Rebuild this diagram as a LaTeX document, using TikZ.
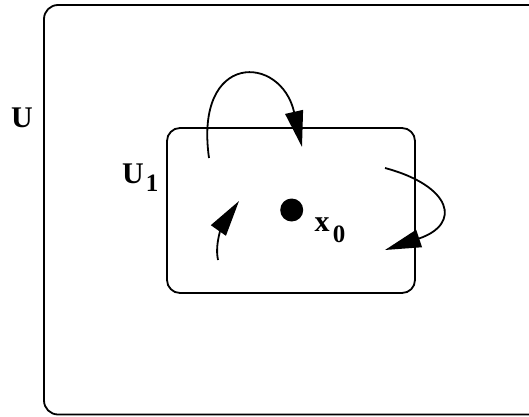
\documentclass[tikz,border=0pt]{standalone}
\usepackage{fontspec}
\setmainfont{Liberation Serif}
\usetikzlibrary{arrows.meta}
\begin{document}
\begin{tikzpicture}[x=1pt,y=1pt,
  box/.style={line width=1.8pt, rounded corners=14pt},
  flow/.style={line width=1.8pt, -{Triangle[length=36pt,width=18pt]}},
  lbl/.style={font=\fontsize{30}{32}\selectfont\bfseries, inner sep=0pt, anchor=base},
  sublbl/.style={font=\fontsize{25}{27}\selectfont\bfseries, inner sep=0pt, anchor=base}]
\useasboundingbox (0,0) rectangle (529,416);
\clip (0,0) rectangle (529,416);
\draw[box] (44,1.5) rectangle (570,411);
\draw[box, rounded corners=13pt] (167,123) rectangle (415,288);
\node[lbl] (U) at (22,289) {U};
\node[lbl] (U1) at (133,233) {U};
\node[sublbl] (one) at (152,225) {1};
\node[lbl] (x) at (322,185) {x};
\node[sublbl] (zero) at (339,174) {0};
\fill (291.7,206) circle (11.5);
\node[inner sep=0pt] (dot) at (291.7,206) {};
\coordinate (a1s) at (209,258);
\coordinate (a1e) at (302,269);
\coordinate (a2s) at (385,248);
\coordinate (a2e) at (385,166);
\coordinate (a3s) at (218,156);
\coordinate (a3e) at (239,215);
\draw[flow] (a1s) .. controls (194,365) and (281,362) .. (a1e);
\draw[flow] (a2s) .. controls (452,230) and (462,192) .. (a2e);
\draw[flow] (a3s) .. controls (214,175) and (225,195) .. (a3e);
\end{tikzpicture}
\end{document}
